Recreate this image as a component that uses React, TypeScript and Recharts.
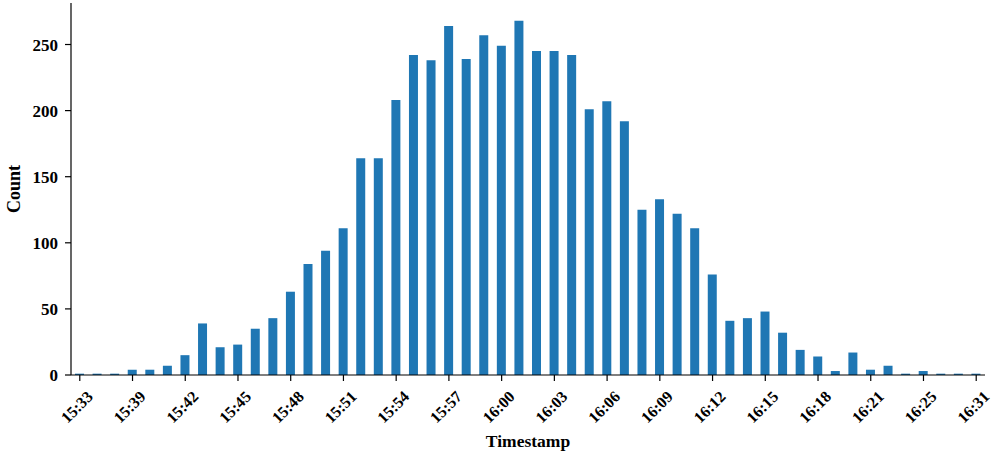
import React from 'react';
import { BarChart, Bar, XAxis, YAxis, Label } from 'recharts';

// Minute buckets along the x axis
const timestamps: string[] = [
  '15:33', '15:35', '15:37', '15:39', '15:40', '15:41', '15:42', '15:43', '15:44',
  '15:45', '15:46', '15:47', '15:48', '15:49', '15:50', '15:51', '15:52', '15:53',
  '15:54', '15:55', '15:56', '15:57', '15:58', '15:59', '16:00', '16:01', '16:02',
  '16:03', '16:04', '16:05', '16:06', '16:07', '16:08', '16:09', '16:10', '16:11',
  '16:12', '16:13', '16:14', '16:15', '16:16', '16:17', '16:18', '16:19', '16:20',
  '16:21', '16:22', '16:23', '16:25', '16:27', '16:29', '16:31',
];

// Number of events per bucket
const counts: number[] = [
  1, 1, 1, 4, 4, 7, 15, 39, 21,
  23, 35, 43, 63, 84, 94, 111, 164, 164,
  208, 242, 238, 264, 239, 257, 249, 268, 245,
  245, 242, 201, 207, 192, 125, 133, 122, 111,
  76, 41, 43, 48, 32, 19, 14, 3, 17,
  4, 7, 1, 3, 1, 1, 1,
];

const yTicks: number[] = [0, 50, 100, 150, 200, 250];

const data = timestamps.map((t, i) => ({ timestamp: t, count: counts[i] }));

const FONT = '"Liberation Serif", "Times New Roman", serif';
const BLUE = '#1f77b4';

const XTick = (props: any) => {
  const { x, y, payload } = props;
  return (
    <text
      transform={`translate(${x - 3},${y + 24}) rotate(-45)`}
      textAnchor="middle"
      dominantBaseline="central"
      fontFamily={FONT}
      fontWeight="bold"
      fontSize={16}
      fill="#000"
    >
      {payload.value}
    </text>
  );
};

export default function App() {
  return (
    <div style={{ position: 'absolute', left: 0, top: 0 }}>
      <BarChart
        width={992}
        height={457}
        data={data}
        margin={{ top: 3, right: 7, bottom: 0, left: 0 }}
        barCategoryGap={0}
      >
        <XAxis
          dataKey="timestamp"
          interval={2}
          height={82}
          tick={<XTick />}
          tickSize={6}
          tickLine={{ stroke: '#000', strokeWidth: 1.2 }}
          axisLine={{ stroke: '#000', strokeWidth: 1.2 }}
        >
          <Label
            content={() => (
              <text
                x={528}
                y={447}
                textAnchor="middle"
                fontFamily={FONT}
                fontWeight="bold"
                fontSize={17.5}
                fill="#000"
              >
                Timestamp
              </text>
            )}
          />
        </XAxis>
        <YAxis
          width={71}
          domain={[0, 281.4]}
          ticks={yTicks}
          allowDataOverflow
          tickSize={6}
          tickMargin={7}
          tick={{ fontFamily: FONT, fontWeight: 'bold', fontSize: 17, fill: '#000' }}
          tickLine={{ stroke: '#000', strokeWidth: 1.2 }}
          axisLine={{ stroke: '#000', strokeWidth: 1.2 }}
        >
          <Label
            content={() => (
              <text
                x={0}
                y={0}
                transform="translate(20,189) rotate(-90)"
                textAnchor="middle"
                fontFamily={FONT}
                fontWeight="bold"
                fontSize={18}
                fill="#000"
              >
                Count
              </text>
            )}
          />
        </YAxis>
        <Bar dataKey="count" fill={BLUE} barSize={9} isAnimationActive={false} />
      </BarChart>
    </div>
  );
}
